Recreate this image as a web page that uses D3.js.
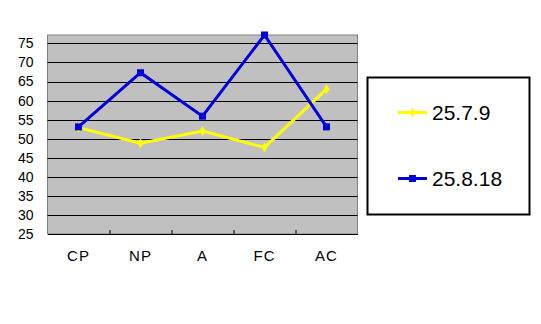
<!DOCTYPE html>
<html>
<head>
<meta charset="utf-8">
<script src="https://cdn.jsdelivr.net/npm/d3@7"></script>
<style>
  body { margin: 0; background: #fff; }
  svg { font-family: "Liberation Sans", Arial, sans-serif; }
</style>
</head>
<body>
<svg id="chart" width="541" height="324"></svg>
<script>
const categories = ['CP', 'NP', 'A', 'FC', 'AC'];
const seriesNames = ['25.7.9', '25.8.18'];
const july = [52.9, 48.8, 52, 47.7, 63];
const august = [53.1, 67.3, 55.9, 77.2, 53.1];
const yTicks = [25, 30, 35, 40, 45, 50, 55, 60, 65, 70, 75];

const svg = d3.select('#chart');
const margin = { top: 35, left: 47.5, right: 183.5, bottom: 90 };
const width = +svg.attr('width') - margin.left - margin.right;
const height = +svg.attr('height') - margin.top - margin.bottom;
const g = svg.append('g').attr('transform', `translate(${margin.left},${margin.top})`);

const x = d3.scaleBand().domain(categories).range([0, width]);
const y = d3.scaleLinear().domain([25, 77.2]).range([height, 0]);

g.append('rect')
    .attr('width', width).attr('height', height)
    .attr('fill', '#c0c0c0').attr('stroke', '#808080');

g.selectAll('.grid').data(yTicks.slice(1)).join('line')
    .attr('x1', 0).attr('x2', width)
    .attr('y1', d => Math.round(y(d)) + 0.5).attr('y2', d => Math.round(y(d)) + 0.5)
    .attr('stroke', '#000');

// y axis labels
const yAxis = g.append('g').call(d3.axisLeft(y).tickValues(yTicks).tickSize(0).tickPadding(14));
yAxis.select('.domain').remove();
yAxis.selectAll('text').attr('font-size', 14).attr('font-family', '"Liberation Sans", Arial, sans-serif').attr('fill', '#000');

// x axis
const xAxis = g.append('g').attr('transform', `translate(0,${height})`)
    .call(d3.axisBottom(x).tickSize(0).tickPadding(16));
xAxis.select('.domain').attr('stroke', '#000');
xAxis.selectAll('text').attr('font-size', 15).attr('letter-spacing', 1)
    .attr('font-family', '"Liberation Sans", Arial, sans-serif').attr('fill', '#000');
g.selectAll('.sep').data(categories.slice(1)).join('line')
    .attr('x1', d => Math.round(x(d)) + 0.5).attr('x2', d => Math.round(x(d)) + 0.5)
    .attr('y1', height).attr('y2', height - 4)
    .attr('stroke', '#000');

const line = d3.line()
    .x((d, i) => x(categories[i]) + x.bandwidth() / 2)
    .y(d => y(d));

const series = [
    { name: seriesNames[0], values: july, color: '#ffff00', marker: 'diamond' },
    { name: seriesNames[1], values: august, color: '#0000d8', marker: 'square' }
];

const markerPath = s => d3.symbol()
    .type(s.marker === 'square' ? d3.symbolSquare : d3.symbolDiamond)
    .size(s.marker === 'square' ? 49 : 30)();

series.forEach(s => {
    g.append('path').datum(s.values)
        .attr('fill', 'none').attr('stroke', s.color).attr('stroke-width', 3)
        .attr('d', line);
    g.selectAll(null).data(s.values).join('path')
        .attr('transform', (d, i) => `translate(${x(categories[i]) + x.bandwidth() / 2},${y(d)})`)
        .attr('d', markerPath(s)).attr('fill', s.color);
});

// legend
const legend = svg.append('g');
legend.append('rect')
    .attr('x', 367.5).attr('y', 77.5).attr('width', 162).attr('height', 137)
    .attr('fill', '#fff').attr('stroke', '#000').attr('stroke-width', 2);
series.forEach((s, i) => {
    const ly = 112.5 + i * 66;
    legend.append('line')
        .attr('x1', 398).attr('x2', 427).attr('y1', ly).attr('y2', ly)
        .attr('stroke', s.color).attr('stroke-width', 3);
    legend.append('path')
        .attr('transform', `translate(412.5,${ly})`)
        .attr('d', markerPath(s))
        .attr('fill', s.color);
    legend.append('text')
        .attr('x', 432).attr('y', ly).attr('dy', '0.36em')
        .attr('font-size', 21).attr('fill', '#000')
        .text(s.name);
});
</script>
</body>
</html>
